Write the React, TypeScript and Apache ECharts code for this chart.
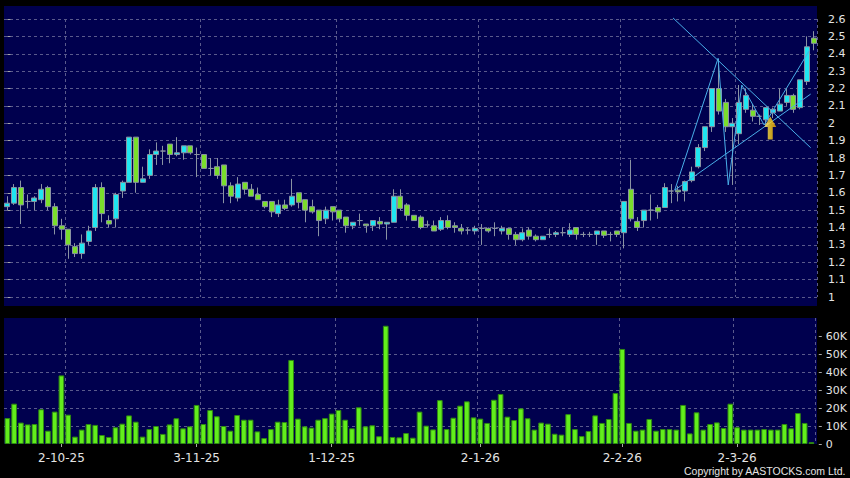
import React, { useEffect, useRef } from "react";
import * as echarts from "echarts";

// Trading days (HK) shown on the chart
const categories: string[] = [
  "2025-09-18","2025-09-19","2025-09-22","2025-09-23","2025-09-24","2025-09-25","2025-09-26","2025-09-29","2025-09-30","2025-10-02",
  "2025-10-03","2025-10-06","2025-10-08","2025-10-09","2025-10-10","2025-10-13","2025-10-14","2025-10-15","2025-10-16","2025-10-17",
  "2025-10-20","2025-10-21","2025-10-22","2025-10-23","2025-10-24","2025-10-27","2025-10-28","2025-10-30","2025-10-31","2025-11-03",
  "2025-11-04","2025-11-05","2025-11-06","2025-11-07","2025-11-10","2025-11-11","2025-11-12","2025-11-13","2025-11-14","2025-11-17",
  "2025-11-18","2025-11-19","2025-11-20","2025-11-21","2025-11-24","2025-11-25","2025-11-26","2025-11-27","2025-11-28","2025-12-01",
  "2025-12-02","2025-12-03","2025-12-04","2025-12-05","2025-12-08","2025-12-09","2025-12-10","2025-12-11","2025-12-12","2025-12-15",
  "2025-12-16","2025-12-17","2025-12-18","2025-12-19","2025-12-22","2025-12-23","2025-12-24","2025-12-29","2025-12-30","2025-12-31",
  "2026-01-02","2026-01-05","2026-01-06","2026-01-07","2026-01-08","2026-01-09","2026-01-12","2026-01-13","2026-01-14","2026-01-15",
  "2026-01-16","2026-01-19","2026-01-20","2026-01-21","2026-01-22","2026-01-23","2026-01-26","2026-01-27","2026-01-28","2026-01-29",
  "2026-01-30","2026-02-02","2026-02-03","2026-02-04","2026-02-05","2026-02-06","2026-02-09","2026-02-10","2026-02-11","2026-02-12",
  "2026-02-13","2026-02-16","2026-02-20","2026-02-23","2026-02-24","2026-02-25","2026-02-26","2026-02-27","2026-03-02","2026-03-03",
  "2026-03-04","2026-03-05","2026-03-06","2026-03-09","2026-03-10","2026-03-11","2026-03-12","2026-03-13","2026-03-16","2026-03-17",
];

// [open, close, low, high]
const ohlc: number[][] = [
  [1.52,1.54,1.50,1.58],[1.54,1.63,1.53,1.65],[1.63,1.53,1.42,1.67],[1.55,1.55,1.51,1.59],[1.55,1.57,1.50,1.58],
  [1.56,1.62,1.54,1.65],[1.63,1.52,1.50,1.64],[1.52,1.41,1.36,1.54],[1.41,1.39,1.33,1.45],[1.39,1.30,1.22,1.39],
  [1.29,1.25,1.23,1.31],[1.25,1.31,1.22,1.36],[1.32,1.38,1.30,1.41],[1.40,1.63,1.38,1.65],[1.63,1.48,1.43,1.66],
  [1.44,1.42,1.40,1.47],[1.45,1.59,1.40,1.60],[1.61,1.66,1.57,1.67],[1.66,1.92,1.66,1.92],[1.92,1.66,1.60,1.92],
  [1.66,1.68,1.66,1.75],[1.70,1.82,1.68,1.85],[1.82,1.84,1.76,1.89],[1.84,1.84,1.76,1.87],[1.88,1.82,1.77,1.88],
  [1.82,1.83,1.81,1.92],[1.83,1.87,1.79,1.87],[1.87,1.83,1.82,1.87],[1.82,1.82,1.69,1.86],[1.82,1.74,1.74,1.82],
  [1.74,1.74,1.70,1.80],[1.75,1.70,1.68,1.80],[1.76,1.64,1.54,1.76],[1.64,1.58,1.54,1.66],[1.57,1.65,1.55,1.69],
  [1.66,1.62,1.59,1.66],[1.62,1.58,1.58,1.65],[1.59,1.56,1.56,1.63],[1.55,1.52,1.51,1.55],[1.55,1.49,1.46,1.55],
  [1.48,1.53,1.46,1.56],[1.53,1.51,1.50,1.56],[1.53,1.58,1.52,1.68],[1.60,1.545,1.51,1.60],[1.56,1.50,1.43,1.56],
  [1.52,1.49,1.48,1.56],[1.50,1.44,1.35,1.50],[1.45,1.50,1.42,1.52],[1.52,1.49,1.44,1.52],[1.50,1.45,1.43,1.50],
  [1.46,1.41,1.37,1.46],[1.41,1.43,1.39,1.43],[1.44,1.44,1.41,1.48],[1.42,1.41,1.37,1.42],[1.41,1.44,1.38,1.44],
  [1.435,1.42,1.39,1.46],[1.42,1.43,1.33,1.43],[1.43,1.58,1.43,1.62],[1.58,1.51,1.50,1.62],[1.53,1.47,1.44,1.54],
  [1.47,1.44,1.44,1.47],[1.46,1.40,1.39,1.47],[1.415,1.415,1.40,1.44],[1.41,1.38,1.38,1.44],[1.39,1.44,1.38,1.46],
  [1.44,1.40,1.39,1.47],[1.41,1.40,1.37,1.43],[1.395,1.38,1.36,1.42],[1.385,1.385,1.36,1.40],[1.38,1.395,1.36,1.41],
  [1.395,1.395,1.30,1.42],[1.395,1.38,1.37,1.40],[1.395,1.395,1.35,1.43],[1.38,1.395,1.36,1.41],[1.395,1.36,1.33,1.395],
  [1.36,1.33,1.30,1.375],[1.33,1.37,1.32,1.395],[1.385,1.35,1.33,1.40],[1.35,1.33,1.32,1.36],[1.33,1.35,1.33,1.35],
  [1.36,1.36,1.34,1.395],[1.36,1.37,1.345,1.38],[1.37,1.37,1.35,1.40],[1.36,1.385,1.345,1.425],[1.40,1.36,1.33,1.40],
  [1.36,1.36,1.345,1.375],[1.36,1.36,1.345,1.375],[1.36,1.38,1.30,1.38],[1.38,1.355,1.34,1.38],[1.36,1.36,1.32,1.375],
  [1.38,1.36,1.345,1.38],[1.37,1.55,1.28,1.55],[1.62,1.45,1.435,1.79],[1.435,1.40,1.38,1.46],[1.44,1.50,1.40,1.50],
  [1.50,1.50,1.44,1.59],[1.515,1.49,1.45,1.53],[1.515,1.63,1.515,1.655],[1.61,1.61,1.54,1.65],[1.615,1.605,1.55,1.64],
  [1.61,1.665,1.55,1.67],[1.67,1.72,1.66,1.75],[1.75,1.86,1.74,1.88],[1.86,1.98,1.84,1.98],[1.98,2.20,1.95,2.20],
  [2.20,2.07,2.05,2.37],[2.12,1.98,1.95,2.14],[1.98,2.00,1.645,2.03],[1.94,2.12,1.88,2.22],[2.08,2.16,2.06,2.20],
  [2.075,2.04,2.01,2.11],[2.04,2.04,1.99,2.05],[2.02,2.09,1.99,2.09],[2.06,2.08,2.03,2.09],[2.07,2.11,2.07,2.20],
  [2.12,2.16,2.10,2.20],[2.16,2.08,2.06,2.17],[2.09,2.25,2.08,2.25],[2.24,2.44,2.22,2.50],[2.49,2.46,2.42,2.53],
];

const volume: number[] = [
  14400, 22400, 11900, 10900, 11100, 19300, 7400, 18000, 38100, 16300,
  4100, 8000, 11100, 10600, 5000, 3900, 9300, 11300, 15900, 12400,
  4100, 8300, 10000, 5600, 10900, 14300, 8700, 9800, 21700, 11100,
  18900, 15400, 10000, 7400, 16100, 13500, 13500, 7000, 3300, 8300,
  12400, 12200, 46700, 14100, 9800, 9100, 13500, 14400, 16900, 18900,
  13500, 8700, 20400, 9800, 10400, 4300, 65700, 3900, 3700, 6100,
  3500, 18000, 10200, 8100, 24400, 8300, 14600, 21300, 23700, 14800,
  14100, 11700, 24600, 27800, 15200, 13300, 19800, 14300, 8000, 11900,
  11300, 5700, 5200, 16600, 8300, 4400, 7200, 15900, 11700, 13900,
  28300, 52800, 11700, 7400, 8000, 13900, 7400, 8300, 8300, 8000,
  21700, 5900, 17600, 8000, 11100, 12000, 8900, 22400, 9300, 8000,
  8000, 8000, 8300, 8000, 8000, 11100, 8700, 17200, 11700, 1000,
];

// x-axis tick labels and where they sit
const xTickIndex: number[] = [8, 28, 48, 70, 91, 108];
const xTickLabels: string[] = ["2-10-25", "3-11-25", "1-12-25", "2-1-26", "2-2-26", "2-3-26"];
// first trading day of each month: vertical grid lines at its left edge
const monthStartIndex: number[] = [9, 29, 49, 70, 91, 108];

// price axis
const priceMin = 1;
const priceMax = 2.6;
const priceStep = 0.1;
// volume axis (panel reaches 70K, labels stop at 60K)
const volMin = 0;
const volMax = 70000;
const volStep = 10000;
const volTicks: number[] = [0, 10000, 20000, 30000, 40000, 50000, 60000];

// drawn trend lines: [category position, price]
const trendDown: number[][] = [[98.25, 2.606], [118.57, 1.859]];
const trendUp: number[][] = [[98.5, 1.615], [118.57, 2.168]];
const zigzag: number[][] = [[98.5, 1.615], [104.9, 2.374], [106.4, 1.645], [108.4, 2.22], [111.7, 1.99], [118.4, 2.42]];
const arrowPoint: number[][] = [[112.6, 1.973]];

const copyright = "Copyright by AASTOCKS.com Ltd.";

export default function App() {
  const ref = useRef<HTMLDivElement>(null);
  useEffect(() => {
    if (!ref.current) return;
    const chart = echarts.init(ref.current, undefined, { renderer: "svg" });
    const gridColor = "#5a5a8c";
    const labelColor = "#e4e4e4";
    const tickColor = "#a8a8a8";
    const lineBlue = "#49aee8";
    const labelByDate: Record<string, string> = {};
    xTickIndex.forEach((k, j) => { labelByDate[categories[k]] = xTickLabels[j]; });
    const splitLineX = {
      show: true,
      interval: (i: number) => monthStartIndex.includes(i),
      lineStyle: { color: gridColor, type: [3, 3], width: 1 },
    };
    const trendSeries = (data: number[][]) => ({
      type: "line",
      xAxisIndex: 2,
      yAxisIndex: 0,
      data,
      symbol: "none",
      silent: true,
      clip: false,
      z: 5,
      lineStyle: { color: lineBlue, width: 1 },
    });
    const option: any = {
      animation: false,
      backgroundColor: "#000000",
      textStyle: { fontFamily: "DejaVu Sans" },
      graphic: {
        elements: [
          { type: "rect", left: 4, top: 6, z: -100, silent: true, shape: { width: 813, height: 300 }, style: { fill: "#00004e" } },
          { type: "rect", left: 4, top: 318, z: -100, silent: true, shape: { width: 813, height: 126 }, style: { fill: "#00004e" } },
          { type: "text", right: 4, top: 465, style: { text: copyright, fill: labelColor, font: "10.5px 'Liberation Sans'" } },
        ],
      },
      grid: [
        { left: 4, top: 19, width: 813, height: 278 },
        { left: 4, top: 318, width: 813, height: 126 },
      ],
      xAxis: [
        {
          type: "category", gridIndex: 0, data: categories, boundaryGap: true,
          axisLine: { show: false }, axisTick: { show: false }, axisLabel: { show: false },
          splitLine: splitLineX,
        },
        {
          type: "category", gridIndex: 1, data: categories, boundaryGap: true, offset: 2,
          axisLine: { show: false },
          axisTick: {
            show: true, alignWithLabel: true, length: 3,
            interval: (i: number) => xTickIndex.includes(i),
            lineStyle: { color: tickColor },
          },
          axisLabel: {
            interval: (i: number) => xTickIndex.includes(i),
            formatter: (v: string) => labelByDate[v] ?? "",
            color: labelColor, fontSize: 12, margin: 6, fontFamily: "DejaVu Sans",
          },
          splitLine: splitLineX,
        },
        { type: "value", gridIndex: 0, min: -0.5, max: categories.length - 0.5, show: false },
      ],
      yAxis: [
        {
          type: "value", gridIndex: 0, position: "right", min: priceMin, max: priceMax, interval: priceStep, offset: 4,
          axisLine: { show: false },
          axisTick: { show: true, length: 3, lineStyle: { color: tickColor } },
          axisLabel: {
            color: labelColor, fontSize: 11, margin: 7, fontFamily: "DejaVu Sans",
            formatter: (v: number) => String(Math.round(v * 10) / 10),
          },
          splitLine: { show: true, lineStyle: { color: gridColor, type: [3, 3], width: 1 } },
        },
        {
          type: "value", gridIndex: 1, position: "right", min: volMin, max: volMax, interval: volStep, offset: 4,
          axisLine: { show: false },
          axisTick: { show: true, length: 3, customValues: volTicks, lineStyle: { color: tickColor } },
          axisLabel: {
            color: labelColor, fontSize: 11, margin: 7, fontFamily: "DejaVu Sans", customValues: volTicks,
            formatter: (v: number) => (v === 0 ? "0" : `${v / 1000}K`),
          },
          splitLine: { show: true, showMinLine: false, showMaxLine: false, lineStyle: { color: gridColor, type: [3, 3], width: 1 } },
        },
      ],
      series: [
        {
          type: "candlestick", xAxisIndex: 0, yAxisIndex: 0, data: ohlc, barWidth: 5.5, z: 3,
          itemStyle: {
            color: "#1fe6f0", color0: "#7ade2c",
            borderColor: "#8a93a3", borderColor0: "#8a93a3", borderColorDoji: "#8a93a3", borderWidth: 1,
          },
        },
        {
          type: "bar", xAxisIndex: 1, yAxisIndex: 1, data: volume, barWidth: "84%",
          itemStyle: { color: "#62ee1c", borderColor: "#2f8a12", borderWidth: 1 },
        },
        trendSeries(trendDown),
        trendSeries(trendUp),
        trendSeries(zigzag),
        {
          type: "scatter", xAxisIndex: 2, yAxisIndex: 0, data: arrowPoint, silent: true, z: 6,
          symbol: "path://M6,0 L12,10 L8.5,10 L8.5,22 L3.5,22 L3.5,10 L0,10 Z",
          symbolSize: [12, 23],
          itemStyle: {
            color: new echarts.graphic.LinearGradient(0, 0, 1, 0, [
              { offset: 0, color: "#ffec70" },
              { offset: 0.55, color: "#ffd21a" },
              { offset: 1, color: "#eba000" },
            ]),
          },
        },
      ],
    };
    chart.setOption(option);
    return () => chart.dispose();
  }, []);
  return <div ref={ref} style={{ width: 850, height: 478, position: "fixed", left: 0, top: 0 }} />;
}
